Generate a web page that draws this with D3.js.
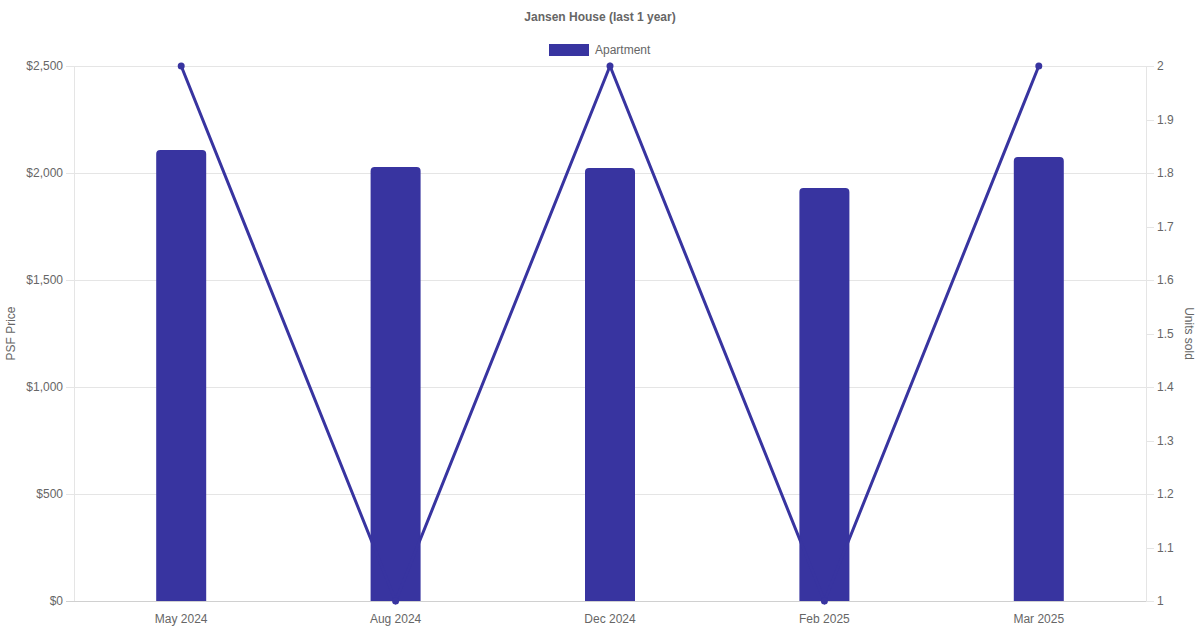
<!DOCTYPE html>
<html><head><meta charset="utf-8">
<script src="https://cdn.jsdelivr.net/npm/d3@7"></script>
<style>body{margin:0;background:#fff}svg{display:block;font-family:"Liberation Sans",Arial,Helvetica,sans-serif}</style>
</head><body><svg id="c" width="1200" height="630"></svg>
<script>
const categories = ["May 2024","Aug 2024","Dec 2024","Feb 2025","Mar 2025"];
const psfPrice = [2107, 2028, 2023, 1930, 2075];
const unitsSold = [2, 1, 2, 1, 2];
const leftTicks = [0,500,1000,1500,2000,2500];
const rightTicks = [1,1.1,1.2,1.3,1.4,1.5,1.6,1.7,1.8,1.9,2];
const seriesName = "Apartment";
const title = "Jansen House (last 1 year)";

const color = "#3834a0";
const textCol = "#666";
const gridCol = "#e5e5e5";
const svg = d3.select("#c");
const L = 74, R = 1146, T = 66, B = 601;

const x = d3.scaleBand().domain(categories).range([L, R]);
const yL = d3.scaleLinear().domain([0, 2500]).range([B, T]);
const yR = d3.scaleLinear().domain([1, 2]).range([B, T]);

// gridlines
svg.append("g").selectAll("line").data(leftTicks).join("line")
  .attr("x1", L - 8).attr("x2", R).attr("y1", d => yL(d) + 0.5).attr("y2", d => yL(d) + 0.5)
  .attr("stroke", d => d === 0 ? "#d0d0d0" : gridCol).attr("stroke-width", 1);
// right tick marks
svg.append("g").selectAll("line").data(rightTicks).join("line")
  .attr("x1", R).attr("x2", R + 8).attr("y1", d => Math.round(yR(d)) + 0.5).attr("y2", d => Math.round(yR(d)) + 0.5)
  .attr("stroke", gridCol);
// axis lines
svg.append("line").attr("x1", L + 0.5).attr("x2", L + 0.5).attr("y1", T).attr("y2", B).attr("stroke", gridCol);
svg.append("line").attr("x1", R + 0.5).attr("x2", R + 0.5).attr("y1", T).attr("y2", B).attr("stroke", gridCol);
// x tick marks
svg.append("g").selectAll("line").data(categories).join("line")
  .attr("x1", d => Math.round(x(d) + x.bandwidth()/2) + 0.5).attr("x2", d => Math.round(x(d) + x.bandwidth()/2) + 0.5)
  .attr("y1", B).attr("y2", B + 8).attr("stroke", gridCol).attr("opacity", 0);

// left labels
svg.append("g").selectAll("text").data(leftTicks).join("text")
  .attr("x", L - 11).attr("y", d => yL(d)).attr("dy", "0.35em").attr("text-anchor", "end")
  .attr("font-size", 12).attr("fill", textCol).text(d => "$" + d3.format(",")(d));
// right labels
svg.append("g").selectAll("text").data(rightTicks).join("text")
  .attr("x", R + 11).attr("y", d => yR(d)).attr("dy", "0.35em").attr("text-anchor", "start")
  .attr("font-size", 12).attr("fill", textCol).text(d => d3.format("~g")(d));
// x labels
svg.append("g").selectAll("text").data(categories).join("text")
  .attr("x", d => x(d) + x.bandwidth()/2).attr("y", B + 22).attr("text-anchor", "middle")
  .attr("font-size", 12).attr("fill", textCol).text(d => d);

// axis titles
svg.append("text").attr("transform", `translate(15,${(T+B)/2}) rotate(-90)`).attr("text-anchor", "middle")
  .attr("font-size", 12).attr("fill", textCol).text("PSF Price");
svg.append("text").attr("transform", `translate(1185,${(T+B)/2}) rotate(90)`).attr("text-anchor", "middle")
  .attr("font-size", 12).attr("fill", textCol).text("Units sold");

// bars
const bw = 50, r = 4;
svg.append("g").selectAll("path").data(categories).join("path")
  .attr("fill", color)
  .attr("d", (d, i) => {
    const cx = x(d) + x.bandwidth()/2, x0 = cx - bw/2, x1 = cx + bw/2, y0 = yL(psfPrice[i]), yb = B;
    return `M${x0},${yb}V${y0+r}Q${x0},${y0} ${x0+r},${y0}H${x1-r}Q${x1},${y0} ${x1},${y0+r}V${yb}Z`;
  });

// line
const line = d3.line().x((d, i) => x(categories[i]) + x.bandwidth()/2).y(d => yR(d));
svg.append("path").datum(unitsSold).attr("d", line).attr("fill", "none").attr("stroke", color).attr("stroke-width", 3);
svg.append("g").selectAll("circle").data(unitsSold).join("circle")
  .attr("cx", (d, i) => x(categories[i]) + x.bandwidth()/2).attr("cy", d => yR(d)).attr("r", 3.5).attr("fill", color);

// title
svg.append("text").attr("x", 600).attr("y", 21).attr("text-anchor", "middle").attr("font-size", 12)
  .attr("font-weight", "bold").attr("fill", textCol).text(title);
// legend
svg.append("rect").attr("x", 549).attr("y", 44).attr("width", 40).attr("height", 12).attr("fill", color);
svg.append("text").attr("x", 595).attr("y", 50).attr("dy", "0.35em").attr("font-size", 12).attr("fill", textCol).text(seriesName);
</script></body></html>
